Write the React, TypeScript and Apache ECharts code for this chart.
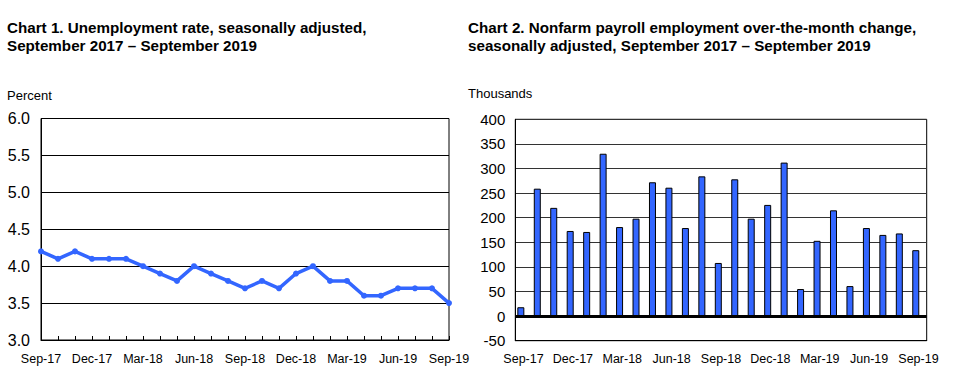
import React, { useEffect, useRef } from "react";
import * as echarts from "echarts";

const months = [
  "Sep-17","Oct-17","Nov-17","Dec-17","Jan-18","Feb-18","Mar-18","Apr-18","May-18",
  "Jun-18","Jul-18","Aug-18","Sep-18","Oct-18","Nov-18","Dec-18","Jan-19","Feb-19",
  "Mar-19","Apr-19","May-19","Jun-19","Jul-19","Aug-19","Sep-19",
];
const unemploymentRate = [
  4.2, 4.1, 4.2, 4.1, 4.1, 4.1, 4.0, 3.9, 3.8, 4.0, 3.9, 3.8, 3.7,
  3.8, 3.7, 3.9, 4.0, 3.8, 3.8, 3.6, 3.6, 3.7, 3.7, 3.7, 3.5,
];
const payrollChange = [
  18, 259, 220, 173, 171, 330, 181, 198, 272, 261, 179, 284, 108,
  278, 198, 226, 312, 55, 153, 215, 61, 179, 165, 168, 134,
];
const spacer = months.map(() => null);

const title1 = ["Chart 1. Unemployment rate, seasonally adjusted,", "September 2017 – September 2019"];
const title2 = ["Chart 2. Nonfarm payroll employment over-the-month change,", "seasonally adjusted, September 2017 – September 2019"];

const FONT = "'Liberation Sans', Arial, sans-serif";
const BLUE = "#3366FF";

export default function App() {
  const ref = useRef<HTMLDivElement>(null);
  useEffect(() => {
    if (!ref.current) return;
    const chart = echarts.init(ref.current, undefined, { renderer: "svg" });
    const titleText = (lines: string[], x: number) =>
      lines.map((t, i) => ({
        type: "text",
        left: x,
        top: 20 + i * 18,
        style: { text: t, font: `bold 15.2px ${FONT}`, fill: "#000" },
      }));
    chart.setOption({
      animation: false,
      textStyle: { fontFamily: FONT },
      graphic: [
        ...titleText(title1, 7),
        ...titleText(title2, 468),
        { type: "text", left: 7, top: 89, style: { text: "Percent", font: `13px ${FONT}`, fill: "#000" } },
        { type: "text", left: 468, top: 87, style: { text: "Thousands", font: `13px ${FONT}`, fill: "#000" } },
      ],
      grid: [
        { left: 41, top: 118.5, right: 508, bottom: 42, show: true, borderColor: "#000", borderWidth: 1 },
        { left: 515.3, top: 119.3, right: 30.3, bottom: 41.3, show: true, borderColor: "#000", borderWidth: 1 },
      ],
      xAxis: [
        {
          gridIndex: 0,
          type: "category",
          data: months,
          boundaryGap: false,
          axisLine: { lineStyle: { color: "#000", width: 1 } },
          axisTick: { inside: true, length: 4, interval: 0, lineStyle: { color: "#000" } },
          axisLabel: { interval: 2, color: "#000", fontSize: 12.5, margin: 12, fontFamily: FONT },
        },
        {
          gridIndex: 1,
          type: "category",
          data: months,
          axisLine: { onZero: false, lineStyle: { color: "#000", width: 1 } },
          axisTick: { show: false },
          axisLabel: { interval: 2, color: "#000", fontSize: 12.5, margin: 12, fontFamily: FONT },
        },
      ],
      yAxis: [
        {
          gridIndex: 0,
          type: "value",
          min: 3,
          max: 6,
          interval: 0.5,
          axisLine: { show: true, lineStyle: { color: "#000" } },
          axisTick: { show: false },
          axisLabel: { color: "#000", fontSize: 16, margin: 11, fontFamily: FONT, formatter: (v: number) => v.toFixed(1) },
          splitLine: { lineStyle: { color: "#000", width: 1 } },
        },
        {
          gridIndex: 1,
          type: "value",
          min: -50,
          max: 400,
          interval: 50,
          axisLine: { show: true, lineStyle: { color: "#000" } },
          axisTick: { show: false },
          axisLabel: { color: "#000", fontSize: 15, margin: 10, fontFamily: FONT },
          splitLine: { lineStyle: { color: "#333", width: 1 } },
        },
      ],
      series: [
        {
          type: "line",
          xAxisIndex: 0,
          yAxisIndex: 0,
          data: unemploymentRate,
          lineStyle: { color: BLUE, width: 3.5 },
          itemStyle: { color: BLUE },
          symbol: "circle",
          symbolSize: 6,
        },
        {
          type: "bar",
          xAxisIndex: 1,
          yAxisIndex: 1,
          data: payrollChange,
          barWidth: 7,
          barGap: "-23%",
          itemStyle: { color: BLUE, borderColor: "#000", borderWidth: 1 },
          markLine: {
            silent: true,
            symbol: "none",
            label: { show: false },
            lineStyle: { color: "#000", width: 3, type: "solid" },
            data: [{ yAxis: 0 }],
          },
        },
        {
          type: "bar",
          xAxisIndex: 1,
          yAxisIndex: 1,
          data: spacer,
          barWidth: 7,
          itemStyle: { color: "transparent" },
        },
      ],
    });
    return () => chart.dispose();
  }, []);
  return (
    <div
      ref={ref}
      style={{ position: "fixed", left: 0, top: 0, width: 957, height: 382, background: "#fff" }}
    />
  );
}
